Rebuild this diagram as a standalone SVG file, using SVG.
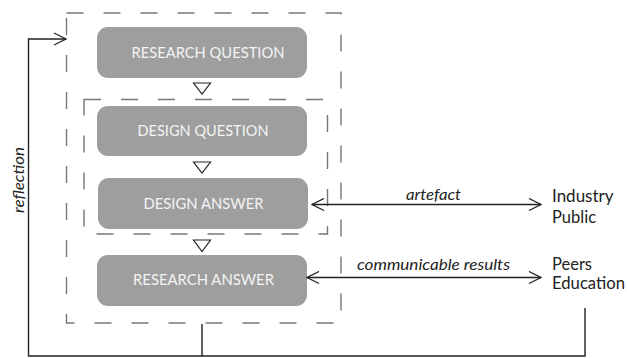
<svg xmlns="http://www.w3.org/2000/svg" width="627" height="358" viewBox="0 0 627 358">
<defs>
<style>
.dash{fill:none;stroke:#777;stroke-width:1.4;stroke-dasharray:17 20}
.box{fill:#9e9e9e}
.bt{font-family:Lato,"Liberation Sans",Arial,sans-serif;font-size:15.5px;fill:#f4f4f4;text-anchor:middle}
.tri{fill:#fff;stroke:#222;stroke-width:1.2}
.ln{fill:none;stroke:#222;stroke-width:1.4}
.lbl{font-family:Lato,"Liberation Sans",Arial,sans-serif;font-size:15.5px;font-style:italic;fill:#222;text-anchor:middle}
.out{font-family:Lato,"Liberation Sans",Arial,sans-serif;font-size:16.5px;fill:#222}
</style>
<marker id="ah" viewBox="0 0 14 14" refX="13" refY="7" markerWidth="14" markerHeight="14" markerUnits="userSpaceOnUse" orient="auto-start-reverse">
<path d="M1 1 L13 7 L1 13" fill="none" stroke="#222" stroke-width="1.3"/>
</marker>
</defs>
<rect width="627" height="358" fill="#fff"/>
<g id="frames">
<rect class="dash" x="66.5" y="13" width="274.5" height="310"/>
<rect class="dash" x="84" y="99.5" width="243.5" height="134.5"/>
</g>
<g id="research-question">
<rect class="box" x="97" y="27" width="210" height="51" rx="11"/>
<text class="bt" x="208" y="57.5" textLength="153" lengthAdjust="spacingAndGlyphs">RESEARCH QUESTION</text>
</g>
<g id="design-question">
<rect class="box" x="97" y="106" width="210" height="50" rx="11"/>
<text class="bt" x="203" y="136" textLength="131" lengthAdjust="spacingAndGlyphs">DESIGN QUESTION</text>
</g>
<g id="design-answer">
<rect class="box" x="98" y="178" width="210" height="51" rx="11"/>
<text class="bt" x="203.5" y="208.5" textLength="120" lengthAdjust="spacingAndGlyphs">DESIGN ANSWER</text>
</g>
<g id="research-answer">
<rect class="box" x="97" y="255" width="210" height="51" rx="11"/>
<text class="bt" x="203.5" y="284.5" textLength="141" lengthAdjust="spacingAndGlyphs">RESEARCH ANSWER</text>
</g>
<g id="industry-public">
<text class="out" x="552" y="202" textLength="61.5" lengthAdjust="spacingAndGlyphs">Industry</text>
<text class="out" x="552" y="223">Public</text>
</g>
<g id="peers-education">
<text class="out" x="552" y="270">Peers</text>
<text class="out" x="552" y="289" textLength="73" lengthAdjust="spacingAndGlyphs">Education</text>
</g>
<g id="connectors">
<polygon class="tri" points="193.5,83 210.5,83 202,94"/>
<polygon class="tri" points="193.5,162 210.5,162 202,173"/>
<polygon class="tri" points="193.5,240 210.5,240 202,251.5"/>
<line class="ln" x1="312" y1="204.5" x2="541" y2="204.5" marker-start="url(#ah)" marker-end="url(#ah)"/>
<text class="lbl" x="433.5" y="200" textLength="55" lengthAdjust="spacingAndGlyphs">artefact</text>
<line class="ln" x1="307" y1="277.5" x2="541" y2="277.5" marker-start="url(#ah)" marker-end="url(#ah)"/>
<text class="lbl" x="433.5" y="270" textLength="153" lengthAdjust="spacingAndGlyphs">communicable results</text>
<polyline class="ln" points="585,308 585,356 28.5,356 28.5,39 66,39" marker-end="url(#ah)"/>
<line class="ln" x1="202" y1="324" x2="202" y2="356"/>
<text class="lbl" transform="translate(24,180) rotate(-90)" x="0" y="0" textLength="66" lengthAdjust="spacingAndGlyphs">reflection</text>
</g>
</svg>
